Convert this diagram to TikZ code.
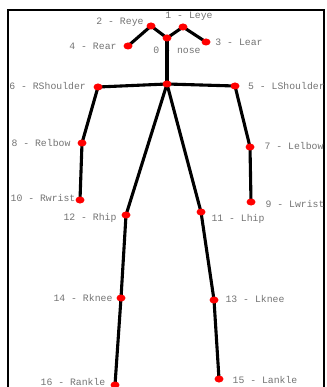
\documentclass[tikz,border=0pt]{standalone}
\usepackage{fontspec}
\setmonofont{Liberation Mono}
\usetikzlibrary{shapes.geometric}
\definecolor{lbl}{RGB}{115,115,115}
\definecolor{jointred}{RGB}{255,0,0}
\begin{document}
\begin{tikzpicture}[x=1pt,y=-1pt,
  joint/.style={ellipse,fill=jointred,inner sep=0pt,minimum width=9pt,minimum height=7pt},
  bone/.style={line width=3.1pt,black,line cap=round},
  lab/.style={font=\ttfamily\fontsize{9.8}{10}\selectfont,text=lbl,inner sep=0pt}]
\useasboundingbox (0,0) rectangle (326,387);
\begin{scope}
\clip (0,0) rectangle (326,387);
% frame
\draw[line width=2.2pt] (8,395) -- (8,10) -- (324,10) -- (324,395);
% labels
\node[lab] (t1) at (189,16) {1 - Leye};
\node[lab] (t2) at (120,22) {2 - Reye};
\node[lab] (t4) at (93,46) {4 - Rear};
\node[lab] (t0) at (177,50) {0 - nose};
\node[lab] (t3) at (239,42) {3 - Lear};
\node[lab,anchor=east] (t6) at (86,86) {6 - RShoulder};
\node[lab,anchor=west] (t5) at (248,86) {5 - LShoulder};
\node[lab] (t8) at (41,143) {8 - Relbow};
\node[lab] (t7) at (294,146) {7 - Lelbow};
\node[lab] (t10) at (43,198) {10 - Rwrist};
\node[lab] (t9) at (295,204) {9 - Lwrist};
\node[lab] (t12) at (90,218) {12 - Rhip};
\node[lab] (t11) at (238,219) {11 - Lhip};
\node[lab] (t14) at (83,298) {14 - Rknee};
\node[lab] (t13) at (255,299) {13 - Lknee};
\node[lab] (t16) at (73,382) {16 - Rankle};
\node[lab] (t15) at (265,380) {15 - Lankle};
% joints coordinates
\coordinate (p0) at (167,38);
\coordinate (p1) at (183,27);
\coordinate (p2) at (151,26);
\coordinate (p3) at (206,42);
\coordinate (p4) at (128,46);
\coordinate (pn) at (167,84);
\coordinate (p5) at (235,86);
\coordinate (p6) at (98,87);
\coordinate (p7) at (250,147);
\coordinate (p8) at (82,143);
\coordinate (p9) at (251,202);
\coordinate (p10) at (80,200);
\coordinate (p11) at (201,212);
\coordinate (p12) at (126,215);
\coordinate (p13) at (214,300);
\coordinate (p14) at (121,298);
\coordinate (p15) at (219,379);
\coordinate (p16) at (115,385);
% bones
\draw[bone] (p4) -- (p2) -- (p0) -- (p1) -- (p3);
\draw[bone] (p0) -- (pn);
\draw[bone] (p6) -- (pn) -- (p5);
\draw[bone] (p6) -- (p8) -- (p10);
\draw[bone] (p5) -- (p7) -- (p9);
\draw[bone] (pn) -- (p12) -- (p14) -- (p16);
\draw[bone] (pn) -- (p11) -- (p13) -- (p15);
% joint dots
\foreach \p in {p0,p1,p2,p3,p4,pn,p5,p6,p7,p8,p9,p10,p11,p12,p13,p14,p15,p16}
  \node[joint] (j\p) at (\p) {};
\end{scope}
\end{tikzpicture}
\end{document}
